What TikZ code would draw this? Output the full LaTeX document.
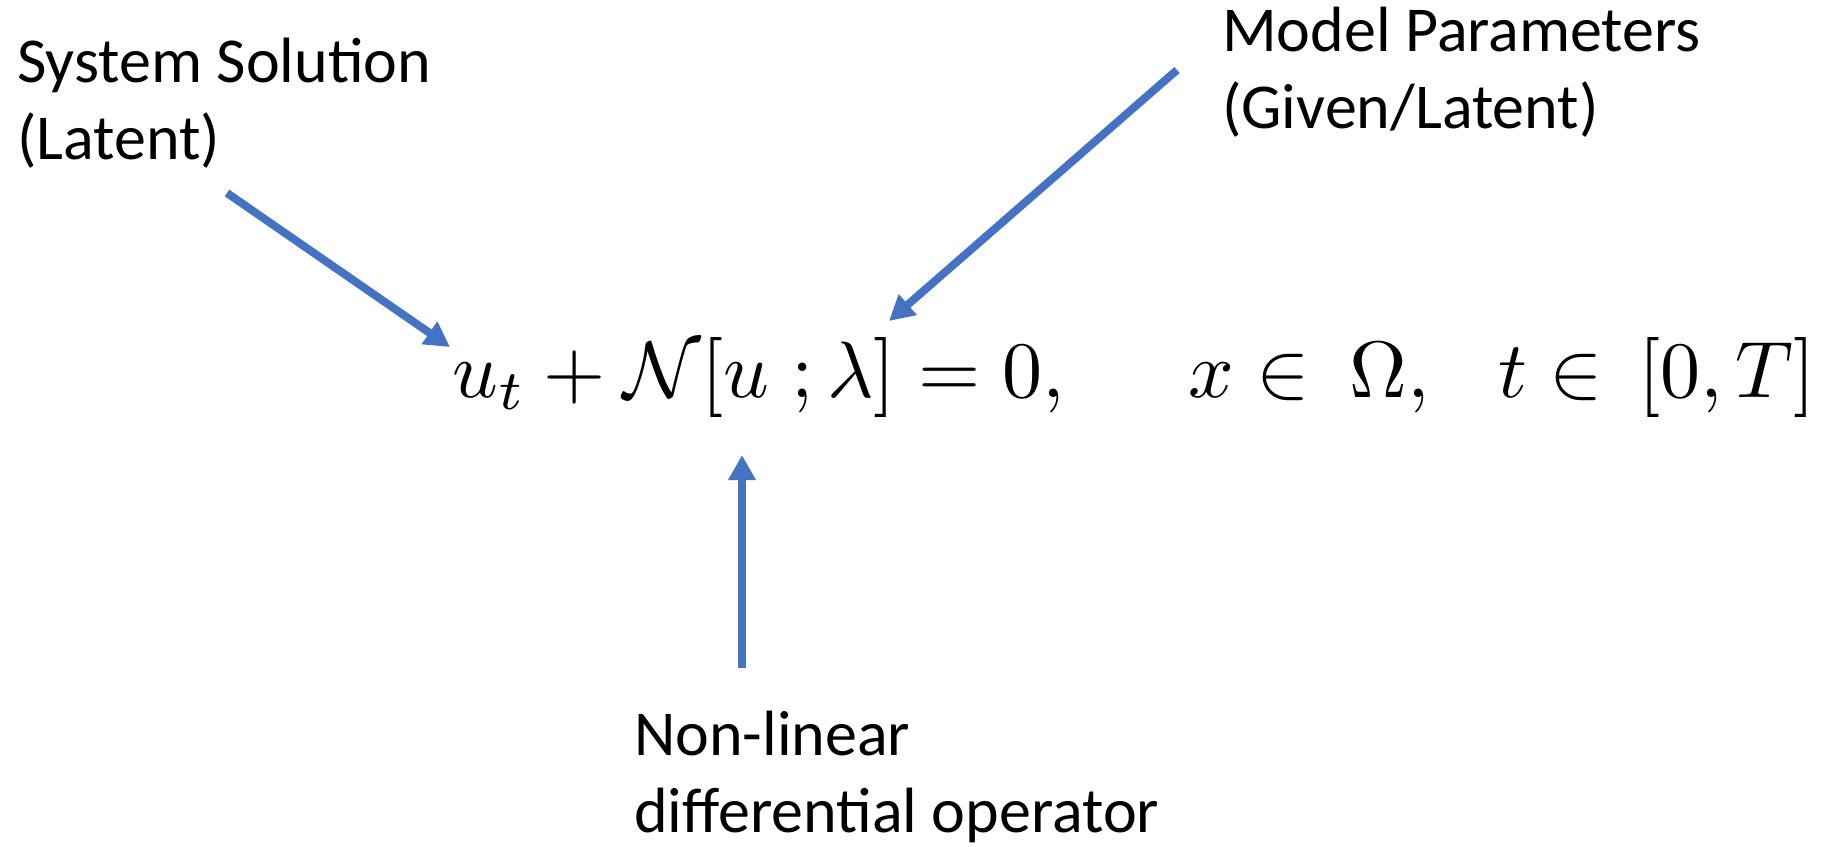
\documentclass[tikz,border=0pt]{standalone}
\usepackage{amsmath}
\usepackage{graphicx}
\usepackage{fontspec}
\setmainfont{Carlito}
\usetikzlibrary{arrows.meta}
\definecolor{arrowblue}{HTML}{4472C4}
\tikzset{
  lbl/.style={inner sep=0pt, anchor=base west, align=left, font=\fontsize{64}{77}\selectfont},
  mathpart/.style={inner sep=0pt, anchor=base west},
  ptr/.style={draw=arrowblue, line width=8pt, -{Triangle[length=25pt,width=26pt]}}
}
\begin{document}
\begin{tikzpicture}[x=1pt,y=-1pt]
\useasboundingbox (0,0) rectangle (1822,846);
\node[lbl] (sys) at (17,159) {System Solution\\(Latent)};
\node[lbl] (mod) at (1222,128) {Model Parameters\\(Given/Latent)};
\node[lbl] (nl) at (634,832) {Non-linear\\differential operator};
\node[mathpart] (eqa) at (452,397) {\scalebox{8}{$u_t + \mathcal{N}[u\;;\lambda] = 0,$}};
\node[mathpart] (eqb) at (1188,397) {\scalebox{8}{$x\in\ \Omega,$}};
\node[mathpart] (eqc) at (1498,397) {\scalebox{8}{$t\in\,[0,T]$}};
\coordinate (a1s) at (227,193);
\coordinate (a1e) at (450,347);
\coordinate (a2s) at (1177,70);
\coordinate (a2e) at (889,321);
\coordinate (a3s) at (742,668);
\coordinate (a3e) at (742,455);
\draw[ptr] (a1s) -- (a1e);
\draw[ptr] (a2s) -- (a2e);
\draw[ptr] (a3s) -- (a3e);
\end{tikzpicture}
\end{document}
